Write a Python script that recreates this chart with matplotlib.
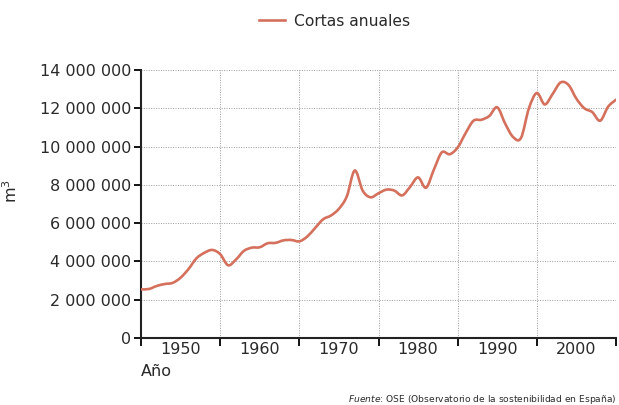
import matplotlib
matplotlib.use("Agg")
import matplotlib.pyplot as plt
from matplotlib.path import Path
from matplotlib.patches import PathPatch
from matplotlib.lines import Line2D
from matplotlib.ticker import FuncFormatter, FixedLocator

# Cortas anuales de madera en España (m3)
years = list(range(1945, 2006))
cortas = [
    2.54, 2.56, 2.72, 2.82, 2.88, 3.15, 3.60, 4.16, 4.45, 4.60,
    4.38, 3.80, 4.10, 4.55, 4.72, 4.74, 4.95, 4.97, 5.10, 5.12,
    5.05, 5.30, 5.75, 6.20, 6.40, 6.75, 7.40, 8.75, 7.70, 7.35,
    7.56, 7.75, 7.70, 7.45, 7.90, 8.39, 7.85, 8.80, 9.70, 9.60,
    9.95, 10.70, 11.35, 11.40, 11.60, 12.05, 11.20, 10.50, 10.45, 12.00,
    12.80, 12.20, 12.75, 13.35, 13.22, 12.50, 12.00, 11.80, 11.35, 12.08,
    12.45,
]
cortas = [v * 1e6 for v in cortas]

decade_edges = [1945, 1955, 1965, 1975, 1985, 1995, 2005]
decade_labels = [1950, 1960, 1970, 1980, 1990, 2000]
y_ticks = [0, 2e6, 4e6, 6e6, 8e6, 10e6, 12e6, 14e6]

LINE_COLOR = '#d4705c'
TXT = '#2a2a2a'

plt.rcParams['font.family'] = ['DejaVu Sans']


def smooth_path(xs, ys):
    # curva suave (Catmull-Rom como beziers cubicas) que pasa por los puntos
    verts = [(xs[0], ys[0])]
    codes = [Path.MOVETO]
    n = len(xs)
    for i in range(n - 1):
        x0, y0 = (xs[i - 1], ys[i - 1]) if i > 0 else (xs[i], ys[i])
        x1, y1 = xs[i], ys[i]
        x2, y2 = xs[i + 1], ys[i + 1]
        x3, y3 = (xs[i + 2], ys[i + 2]) if i + 2 < n else (x2, y2)
        verts += [(x1 + (x2 - x0) / 6, y1 + (y2 - y0) / 6),
                  (x2 - (x3 - x1) / 6, y2 - (y3 - y1) / 6),
                  (x2, y2)]
        codes += [Path.CURVE4] * 3
    return Path(verts, codes)


fig = plt.figure(figsize=(6.19, 4.05), dpi=100)
ax = fig.add_axes([141 / 619, 1 - 338 / 405, 475 / 619, 268 / 405])

ax.add_patch(PathPatch(smooth_path(years, cortas), facecolor='none',
                       edgecolor=LINE_COLOR, lw=1.9, capstyle='round',
                       joinstyle='round', zorder=3))

ax.set_xlim(1945, 2005)
ax.set_ylim(0, 14e6)

ax.xaxis.set_major_locator(FixedLocator(decade_edges))
ax.xaxis.set_minor_locator(FixedLocator(decade_labels))
ax.xaxis.set_major_formatter(FuncFormatter(lambda v, p: ''))
ax.xaxis.set_minor_formatter(FuncFormatter(lambda v, p: f'{int(v)}'))
ax.tick_params(axis='x', which='major', direction='out', length=6, width=1.3)
ax.tick_params(axis='x', which='minor', length=0, pad=3, labelsize=11.5,
               labelcolor=TXT)

ax.set_yticks(y_ticks)
ax.yaxis.set_major_formatter(
    FuncFormatter(lambda v, p: f'{int(v):,}'.replace(',', ' ')))
ax.tick_params(axis='y', direction='out', length=5, width=1.3,
               pad=2, labelsize=11.5, labelcolor=TXT)

ax.grid(True, which='major', linestyle=(0, (1, 1.5)), color='#9a9a9a', lw=0.7)
ax.set_axisbelow(True)

for s in ['top', 'right']:
    ax.spines[s].set_visible(False)
for s in ['left', 'bottom']:
    ax.spines[s].set_linewidth(1.5)
    ax.spines[s].set_color('#222222')

ax.set_ylabel('m$^3$', fontsize=11.5, color=TXT)
ax.yaxis.set_label_coords(-0.255, 0.55)

fig.text(141 / 619, 1 - 372 / 405, 'Año', fontsize=11.5, va='center',
         ha='left', color=TXT)

handle = Line2D([], [], color=LINE_COLOR, lw=1.9)
fig.legend([handle], ['Cortas anuales'], loc='center',
           bbox_to_anchor=(0.54, 1 - 21 / 405), frameon=False,
           fontsize=11.2, handlelength=1.7, handletextpad=0.55,
           labelcolor=TXT)

fig.text(617 / 619, 1 - 399 / 405,
         r'$\it{Fuente}$: OSE (Observatorio de la sostenibilidad en España)',
         fontsize=6.6, ha='right', va='center', color=TXT)

fig.savefig('out.png', dpi=100)
